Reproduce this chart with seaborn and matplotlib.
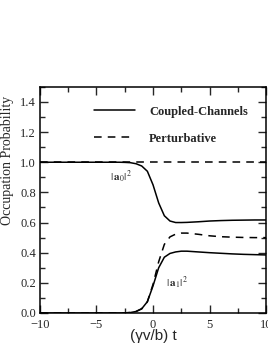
import matplotlib
matplotlib.use("Agg")
import matplotlib.pyplot as plt
from matplotlib.ticker import MultipleLocator
import seaborn as sns
import pandas as pd

# time axis, (gamma v / b) t
t = [-10, -6, -3, -2.5, -2, -1.5, -1, -0.5, 0, 0.5, 1, 1.5, 2, 2.5, 3, 4, 5, 6, 7, 8, 9, 10]

# coupled-channels |a0|^2 and |a1|^2
a0_cc = [1.0, 1.0, 1.0, 0.999, 0.997, 0.99, 0.975, 0.94, 0.85, 0.73, 0.645, 0.61, 0.60, 0.60,
         0.601, 0.605, 0.61, 0.613, 0.615, 0.616, 0.617, 0.617]
a1_cc = [0.0, 0.0, 0.0, 0.001, 0.003, 0.01, 0.028, 0.075, 0.18, 0.30, 0.37, 0.395, 0.405, 0.41,
         0.41, 0.405, 0.40, 0.396, 0.392, 0.389, 0.387, 0.385]

# perturbative |a0|^2 and |a1|^2
a0_pt = [1.0] * len(t)
a1_pt = [0.0, 0.0, 0.0, 0.001, 0.003, 0.01, 0.028, 0.075, 0.19, 0.34, 0.455, 0.505, 0.523, 0.53,
         0.53, 0.522, 0.512, 0.506, 0.503, 0.501, 0.50, 0.50]

yticks = [0, 0.2, 0.4, 0.6, 0.8, 1.0, 1.2, 1.4]
ytick_labels = ["0.0", "0.2", "0.4", "0.6", "0.8", "1.0", "1.2", "1.4"]

df = pd.DataFrame({"t": t, "a0_cc": a0_cc, "a1_cc": a1_cc, "a0_pt": a0_pt, "a1_pt": a1_pt})

sns.set_style("ticks")
plt.rcParams["font.family"] = ["Liberation Serif", "DejaVu Serif"]
plt.rcParams["mathtext.fontset"] = "stix"

fig = plt.figure(figsize=(2.68, 3.46), dpi=100)
ax = fig.add_axes([0.149, 0.0954, 0.844, 0.6536])

dash = (0, (5, 4))
sns.lineplot(data=df, x="t", y="a0_cc", ax=ax, color="black", lw=1.1, label="Coupled-Channels")
sns.lineplot(data=df, x="t", y="a0_pt", ax=ax, color="black", lw=1.1, ls=dash, label="Perturbative")
sns.lineplot(data=df, x="t", y="a1_cc", ax=ax, color="black", lw=1.1, legend=False)
sns.lineplot(data=df, x="t", y="a1_pt", ax=ax, color="black", lw=1.1, ls=dash, legend=False)

ax.set_xlim(-10, 10)
ax.set_ylim(0, 1.5)
ax.xaxis.set_major_locator(MultipleLocator(5))
ax.xaxis.set_minor_locator(MultipleLocator(2.5))
ax.yaxis.set_minor_locator(MultipleLocator(0.1))
ax.set_yticks(yticks)
ax.set_yticklabels(ytick_labels)
ax.tick_params(which="both", direction="in", top=True, right=True, width=1.0, labelsize=9)
ax.tick_params(which="major", length=6)
ax.tick_params(which="minor", length=3.5)
ax.tick_params(axis="y", pad=3)
ax.tick_params(axis="x", pad=4)
for s in ax.spines.values():
    s.set_linewidth(1.1)
    s.set_color("black")

ax.set_ylabel("Occupation Probability", fontsize=10)
ax.yaxis.set_label_coords(-0.115, 0.673)
ax.set_xlabel("(\u03b3v/b) t", fontsize=11, family=["Liberation Sans", "DejaVu Sans"], labelpad=-1)

ax.text(-2.8, 0.905, r"$|\,\mathbf{a}_0|^2$", fontsize=8, ha="center", va="center")
ax.text(2.1, 0.20, r"$|\,\mathbf{a}_1|^2$", fontsize=8, ha="center", va="center")

leg = ax.legend(loc="upper left", bbox_to_anchor=(0.212, 0.945), frameon=False, handlelength=3.3,
                handletextpad=1.1, labelspacing=1.2, borderpad=0,
                prop={"family": "Liberation Serif", "weight": "bold", "size": 9})

fig.savefig("out.png", dpi=100)
